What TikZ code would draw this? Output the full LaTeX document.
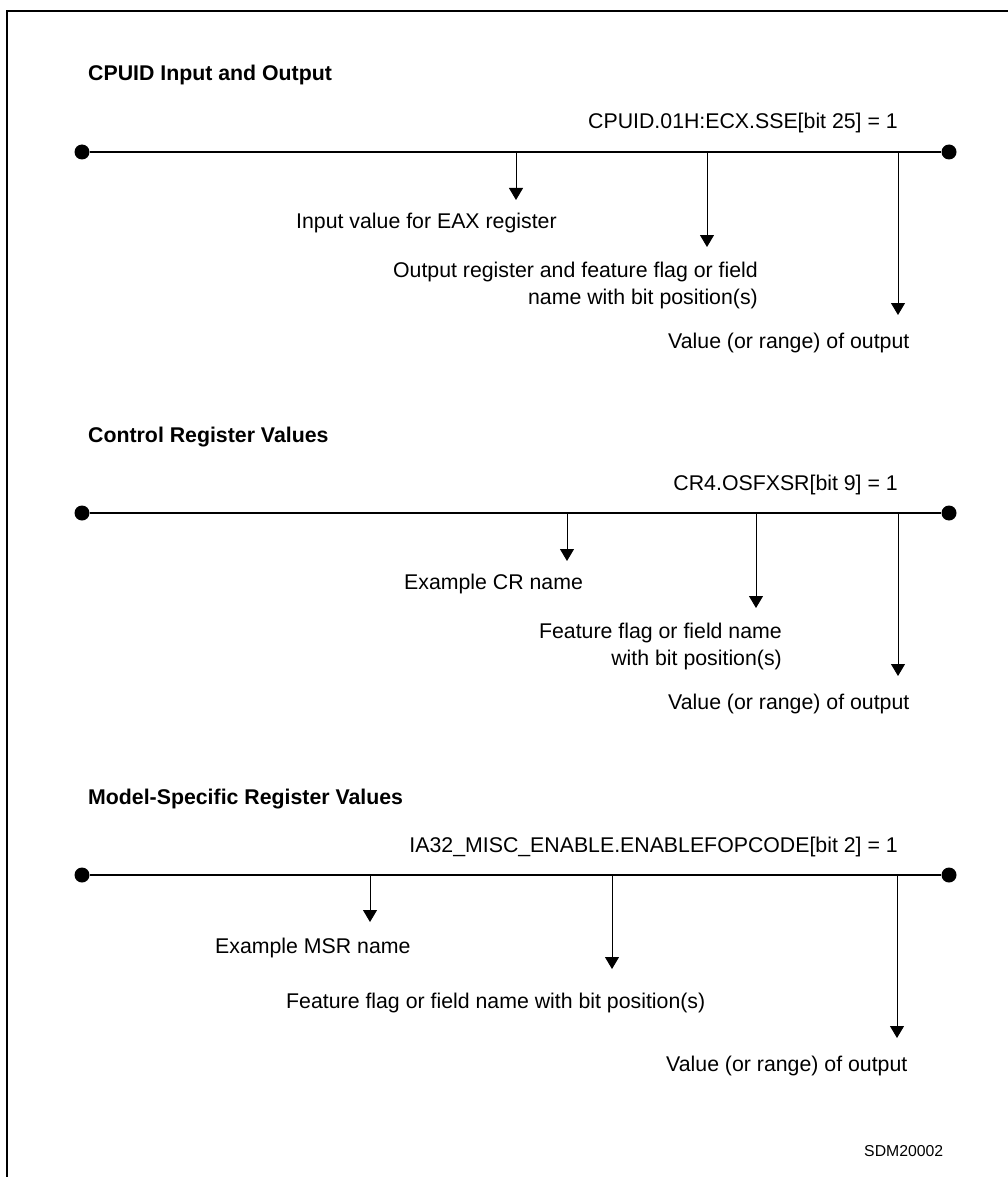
\documentclass[tikz,border=0pt]{standalone}
\usepackage{fontspec}
\setmainfont{Liberation Sans}
\usetikzlibrary{arrows.meta,positioning}

\begin{document}
\begin{tikzpicture}[
    x=1pt, y=-1pt,
    font=\fontsize{21.3}{26.5}\selectfont,
    >={Triangle[length=12pt,width=14pt]},
    title/.style={font=\fontsize{21.3}{26.5}\selectfont\bfseries, anchor=base west, inner sep=0pt},
    regname/.style={anchor=base east, inner sep=0pt},
    desc/.style={anchor=base west, inner sep=0pt},
    descr/.style={anchor=north east, inner sep=0pt, align=right},
    dot/.style={circle, fill=black, inner sep=0pt, minimum size=15pt},
    rail/.style={line width=1.4pt},
    tick/.style={->, line width=0.9pt},
]
\useasboundingbox (0,0) rectangle (1008,1177);
\draw[line width=2pt] (7,1177) -- (7,11) -- (1008,11);

% ---- CPUID input and output ----
\node[title] (tcpuid) at (88,81) {CPUID Input and Output};
\node[regname] (rcpuid) at (898,129) {CPUID.01H:ECX.SSE[bit 25] = 1};
\node[dot] (lcpuid) at (82,152) {};
\node[dot] (ecpuid) at (949,152) {};
\draw[rail] (lcpuid) -- (ecpuid);

\coordinate (a1) at (516,152);  \coordinate (a1e) at (516,200);
\coordinate (b1) at (707,152);  \coordinate (b1e) at (707,247);
\coordinate (c1) at (898,152);  \coordinate (c1e) at (898,315);
\draw[tick] (a1) -- (a1e);
\draw[tick] (b1) -- (b1e);
\draw[tick] (c1) -- (c1e);

\node[desc] (eax) at (296,228) {Input value for EAX register};
\node[descr] (outreg) at (758,262) {Output register and feature flag or field\\name with bit position(s)};
\node[desc] (val1) at (668,348) {Value (or range) of output};

% ---- control register values ----
\node[title] (tcr) at (88,442) {Control Register Values};
\node[regname] (rcr) at (898,490) {CR4.OSFXSR[bit 9] = 1};
\node[dot] (lcr) at (82,513) {};
\node[dot] (ecr) at (949,513) {};
\draw[rail] (lcr) -- (ecr);

\coordinate (a2) at (567,513);  \coordinate (a2e) at (567,561);
\coordinate (b2) at (756,513);  \coordinate (b2e) at (756,608);
\coordinate (c2) at (898,513);  \coordinate (c2e) at (898,676);
\draw[tick] (a2) -- (a2e);
\draw[tick] (b2) -- (b2e);
\draw[tick] (c2) -- (c2e);

\node[desc] (crname) at (404,589) {Example CR name};
\node[descr] (crflag) at (782,623) {Feature flag or field name\\with bit position(s)};
\node[desc] (val2) at (668,709) {Value (or range) of output};

% ---- model-specific register values ----
\node[title] (tmsr) at (88,804) {Model-Specific Register Values};
\node[regname] (rmsr) at (898,852) {IA32\_MISC\_ENABLE.ENABLEFOPCODE[bit 2] = 1};
\node[dot] (lmsr) at (82,875) {};
\node[dot] (emsr) at (949,875) {};
\draw[rail] (lmsr) -- (emsr);

\coordinate (a3) at (370,875);  \coordinate (a3e) at (370,922);
\coordinate (b3) at (612,875);  \coordinate (b3e) at (612,969);
\coordinate (c3) at (897,875);  \coordinate (c3e) at (897,1038);
\draw[tick] (a3) -- (a3e);
\draw[tick] (b3) -- (b3e);
\draw[tick] (c3) -- (c3e);

\node[desc] (msrname) at (215,953) {Example MSR name};
\node[desc] (msrflag) at (286,1008) {Feature flag or field name with bit position(s)};
\node[desc] (val3) at (666,1071) {Value (or range) of output};

\node[anchor=base west, inner sep=0pt, font=\fontsize{15.8}{19}\selectfont] (fig) at (864,1156) {SDM20002};
\end{tikzpicture}
\end{document}
